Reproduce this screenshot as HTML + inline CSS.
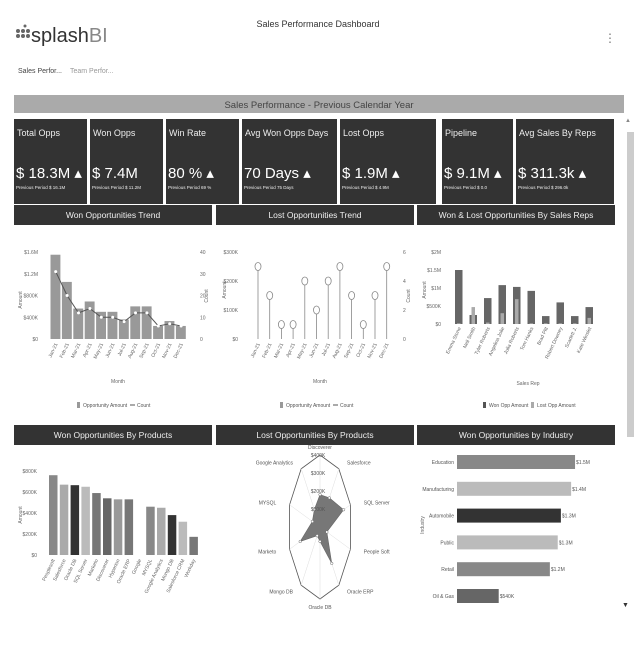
<!DOCTYPE html>
<html><head><meta charset="utf-8"><style>
body{margin:0;width:640px;height:640px;overflow:hidden;background:#fff;font-family:"Liberation Sans",sans-serif;}
svg text{font-family:"Liberation Sans",sans-serif;}
</style></head><body>
<svg id="s" width="640" height="640" viewBox="0 0 640 640" xmlns="http://www.w3.org/2000/svg">
<g>
<g fill="#666"><circle cx="18" cy="36" r="2"/><circle cx="18" cy="31" r="2"/><circle cx="23" cy="36" r="2"/><circle cx="23" cy="31" r="2"/><circle cx="28" cy="36" r="2"/><circle cx="28" cy="31" r="2"/><circle cx="25" cy="26" r="1.5"/></g>
<text x="31" y="42" font-size="20" fill="#333">splash<tspan fill="#888">BI</tspan></text>
</g>
<text x="318" y="27" font-size="9" fill="#333" text-anchor="middle">Sales Performance Dashboard</text>
<text x="610" y="42" font-size="12" fill="#777" text-anchor="middle">⋮</text>
<text x="18" y="73" font-size="7" fill="#444">Sales Perfor...</text>
<text x="70" y="73" font-size="7" fill="#999">Team Perfor...</text>
<rect x="14" y="95" width="610" height="18" fill="#aaa"/>
<text x="319" y="108" font-size="9.5" fill="#444" text-anchor="middle">Sales Performance - Previous Calendar Year</text>
<rect x="627" y="132" width="7" height="305" fill="#ccc"/>
<text x="625" y="122" font-size="6" fill="#888">▲</text>
<text x="622" y="607" font-size="7" fill="#333">▼</text>
<g id="kpis"></g>
<g id="panels"></g>
<g id="won-trend"></g><g id="lost-trend"></g><g id="reps"></g>
<g id="products"></g><g id="radar"></g><g id="industry"></g>
</svg>
<script>
const NS="http://www.w3.org/2000/svg";
function el(p,tag,a,txt){const e=document.createElementNS(NS,tag);for(const k in a)e.setAttribute(k,a[k]);if(txt!=null)e.textContent=txt;p.appendChild(e);return e;}

const kpiTitles=["Total Opps","Won Opps","Win Rate","Avg Won Opps Days","Lost Opps","Pipeline","Avg Sales By Reps"];
const kpiValues=["$ 18.3M","$ 7.4M","80 %","70 Days","$ 1.9M","$ 9.1M","$ 311.3k"];
const kpiPrev=["Previous Period $ 16.1M","Previous Period $ 11.2M","Previous Period 69 %","Previous Period 75 Days","Previous Period $ 4.9M","Previous Period $ 0.0","Previous Period $ 296.0k"];
const kx=[14,90,166,242,340,442,516],kw=[73,73,73,95,96,71,98];
const K=document.getElementById('kpis');
kpiTitles.forEach((t,i)=>{
 const g=el(K,'g',{});
 
 
 el(g,'rect',{x:kx[i],y:119,width:kw[i],height:85,fill:"#333"});
 el(g,'text',{x:kx[i]+3,y:136,'font-size':9,fill:"#eee"},t);
 el(g,'text',{x:kx[i]+2,y:178,'font-size':15,fill:"#fff"},kpiValues[i]+(i==1?"":" ▴"));
 el(g,'text',{x:kx[i]+2,y:189,'font-size':4.5,fill:"#eee"},kpiPrev[i]);
});

const P=document.getElementById('panels');
const hdr=[["Won Opportunities Trend",14,205],["Lost Opportunities Trend",216,205],["Won & Lost Opportunities By Sales Reps",417,205],
["Won Opportunities By Products",14,425],["Lost Opportunities By Products",216,425],["Won Opportunities by Industry",417,425]];
hdr.forEach(h=>{
 const g=el(P,'g',{});
 
 
 el(g,'rect',{x:h[1],y:h[2],width:198,height:20,fill:"#333"});
 el(g,'text',{x:h[1]+99,y:h[2]+13,'font-size':8.5,fill:"#eee",'text-anchor':'middle'},h[0]);
});

const months=["Jan-21","Feb-21","Mar-21","Apr-21","May-21","Jun-21","Jul-21","Aug-21","Sep-21","Oct-21","Nov-21","Dec-21"];
const wonAmount=[1550000,1050000,560000,690000,500000,500000,360000,600000,600000,240000,330000,240000];
const wonCount=[31,20,12,14,10,10,8,12,12,6,7,6];
const wonTicks=["$0","$400K","$800K","$1.2M","$1.6M"];
const countTicks=["0","10","20","30","40"];
const lostCount=[5,3,1,1,4,2,4,5,3,1,3,5];
const lostTicks=["$0","$100K","$200K","$300K"];
const lostCountTicks=["0","2","4","6"];
const reps=["Emma Stone","Neil Smith","Tyler Roberts","Angelina Jolie","Julia Roberts","Tom Hanks","Brad Pitt","Robert Downey","Scarlett J.","Kate Winslet"];
const repWon=[1.5,0.25,0.72,1.08,1.03,0.92,0.22,0.6,0.22,0.47];
const repLost=[0.02,0.47,0.04,0.3,0.69,0.02,0.02,0.02,0.02,0.17];
const repTicks=["$0","$500K","$1M","$1.5M","$2M"];
const products=["Peoplesoft","Salesforce","Oracle DB","SQL Server","Marketo","Discoverer","Hyperion","Oracle ERP","Google","MYSQL","Google Analytics","Mongo DB","Salesforce CRM","Workday"];
const prodWon=[760,670,665,650,590,540,530,530,0,460,450,380,317,173];
const prodColors=["#888","#aaa","#333","#bbb","#777","#666","#999","#777","#888","#888","#aaa","#333","#bbb","#777"];
const prodTicks=["$0","$200K","$400K","$600K","$800K"];
const radarAxes=["Discoverer","Salesforce","SQL Server","People Soft","Oracle ERP","Oracle DB","Mongo DB","Marketo","MYSQL","Google Analytics"];
const radarVals=[180,200,310,90,250,80,60,260,100,120];
const radarTicks=["$100K","$200K","$300K","$400K"];
const industries=["Education","Manufacturing","Automobile","Public","Retail","Oil & Gas"];
const indVals=[1.5,1.45,1.32,1.28,1.18,0.53];
const indLabels=["$1.5M","$1.4M","$1.3M","$1.3M","$1.2M","$540K"];
const indColors=["#888","#bbb","#333","#bbb","#888","#666"];

function xLabels(g,labels,x0,step,y){labels.forEach((m,i)=>{const x=x0+step*i;el(g,'text',{x:x,y:y,'font-size':5,fill:'#666','text-anchor':'end',transform:`rotate(-65 ${x} ${y})`},m);});}

(function(){
 const g=document.getElementById('won-trend');
 
 const y0=339,h=87,x0=50,bw=11.4;
 const y=v=>y0-v/1600000*h, yc=v=>y0-v/40*h;
 wonTicks.forEach((t,i)=>el(g,'text',{x:38,y:y0-i*h/4+2,'font-size':5,fill:'#666','text-anchor':'end'},t));
 countTicks.forEach((t,i)=>el(g,'text',{x:200,y:y0-i*h/4+2,'font-size':5,fill:'#666'},t));
 wonAmount.forEach((v,i)=>{const b=el(g,'rect',{x:x0+i*bw+0.5,y:y(v),width:bw-1.5,height:y0-y(v),fill:'#999'});});
 const pts=wonCount.map((c,i)=>[x0+i*bw+bw/2,yc(c)]);
 el(g,'polyline',{points:pts.map(p=>p.join(',')).join(' '),fill:'none',stroke:'#555','stroke-width':1});
 pts.forEach(p=>el(g,'circle',{cx:p[0],cy:p[1],r:1.5,fill:'#fff'}));
 xLabels(g,months,x0+bw/2+2,bw,344);
 el(g,'text',{x:118,y:383,'font-size':5,fill:'#666','text-anchor':'middle'},'Month');
 el(g,'text',{x:22,y:300,'font-size':5,fill:'#666',transform:'rotate(-90 22 300)','text-anchor':'middle'},'Amount');
 el(g,'text',{x:208,y:296,'font-size':5,fill:'#666',transform:'rotate(-90 208 296)','text-anchor':'middle'},'Count');
 el(g,'rect',{x:77,y:402,width:3,height:6,fill:'#999'});
 el(g,'text',{x:83,y:407,'font-size':5,fill:'#555'},'Opportunity Amount');
 el(g,'line',{x1:130,y1:405,x2:135,y2:405,stroke:'#555'});
 el(g,'text',{x:137,y:407,'font-size':5,fill:'#555'},'Count');
})();

(function(){
 const g=document.getElementById('lost-trend');
 
 const y0=339,h=87,x0=258,st=11.7;
 const yc=v=>y0-v/6*h;
 lostTicks.forEach((t,i)=>el(g,'text',{x:238,y:y0-i*h/3+2,'font-size':5,fill:'#666','text-anchor':'end'},t));
 lostCountTicks.forEach((t,i)=>el(g,'text',{x:403,y:y0-i*h/3+2,'font-size':5,fill:'#666'},t));
 lostCount.forEach((c,i)=>{const x=x0+i*st;el(g,'line',{x1:x,y1:y0,x2:x,y2:yc(c)+4,stroke:'#888','stroke-width':0.8});
  const c1=el(g,'ellipse',{cx:x,cy:yc(c),rx:3,ry:4,fill:'#fff',stroke:'#888','stroke-width':0.8});});
 xLabels(g,months,x0+2,st,344);
 el(g,'text',{x:320,y:383,'font-size':5,fill:'#666','text-anchor':'middle'},'Month');
 el(g,'text',{x:226,y:290,'font-size':5,fill:'#666',transform:'rotate(-90 226 290)','text-anchor':'middle'},'Amount');
 el(g,'text',{x:410,y:296,'font-size':5,fill:'#666',transform:'rotate(-90 410 296)','text-anchor':'middle'},'Count');
 el(g,'rect',{x:280,y:402,width:3,height:6,fill:'#999'});
 el(g,'text',{x:286,y:407,'font-size':5,fill:'#555'},'Opportunity Amount');
 el(g,'line',{x1:333,y1:405,x2:338,y2:405,stroke:'#555'});
 el(g,'text',{x:340,y:407,'font-size':5,fill:'#555'},'Count');
})();

(function(){
 const g=document.getElementById('reps');
 
 const y0=324,h=72,x0=455,st=14.5,bw=7.5;
 const y=v=>y0-v/2*h;
 repTicks.forEach((t,i)=>el(g,'text',{x:441,y:y0-i*h/4+2,'font-size':5,fill:'#666','text-anchor':'end'},t));
 reps.forEach((r,i)=>{const x=x0+i*st;
  const b=el(g,'rect',{x:x,y:y(repWon[i]),width:bw,height:y0-y(repWon[i]),fill:'#666'});
  const l=el(g,'rect',{x:x+2,y:y(repLost[i]),width:bw-4,height:y0-y(repLost[i]),fill:'#aaa'});});
 xLabels(g,reps,x0+6,st,328);
 el(g,'text',{x:528,y:385,'font-size':5,fill:'#666','text-anchor':'middle'},'Sales Rep');
 el(g,'text',{x:426,y:290,'font-size':5,fill:'#666',transform:'rotate(-90 426 290)','text-anchor':'middle'},'Amount');
 el(g,'rect',{x:483,y:402,width:3,height:6,fill:'#555'});
 el(g,'text',{x:489,y:407,'font-size':5,fill:'#555'},'Won Opp Amount');
 el(g,'rect',{x:531,y:402,width:3,height:6,fill:'#aaa'});
 el(g,'text',{x:537,y:407,'font-size':5,fill:'#555'},'Lost Opp Amount');
})();

(function(){
 const g=document.getElementById('products');
 
 const y0=555,h=84,x0=49,st=10.8,bw=8.5;
 const y=v=>y0-v/800*h;
 prodTicks.forEach((t,i)=>el(g,'text',{x:37,y:y0-i*h/4+2,'font-size':5,fill:'#666','text-anchor':'end'},t));
 products.forEach((p,i)=>{const x=x0+i*st;
  const b=el(g,'rect',{x:x,y:y(prodWon[i]),width:bw,height:y0-y(prodWon[i]),fill:prodColors[i]});});
 xLabels(g,products,x0+6,st,560);
 el(g,'text',{x:22,y:515,'font-size':5,fill:'#666',transform:'rotate(-90 22 515)','text-anchor':'middle'},'Amount');
})();

(function(){
 const g=document.getElementById('radar');
 
 const cx=320,cy=527,RX=32,RY=72,n=radarAxes.length;
 const pt=(i,f)=>{const a=-Math.PI/2+i*2*Math.PI/n;return [cx+f*RX*Math.cos(a),cy+f*RY*Math.sin(a)];};
 el(g,'polygon',{points:radarAxes.map((a,i)=>pt(i,1).join(',')).join(' '),fill:'none',stroke:'#555','stroke-width':0.8});
 radarAxes.forEach((a,i)=>{const p=pt(i,1);el(g,'line',{x1:cx,y1:cy,x2:p[0],y2:p[1],stroke:'#ddd','stroke-width':0.5});
  const a2=-Math.PI/2+i*2*Math.PI/n;const qx=cx+(RX+14)*Math.cos(a2),qy=cy+(RY+8)*Math.sin(a2);
  el(g,'text',{x:qx,y:qy+2,'font-size':5,fill:'#555','text-anchor':qx<cx-5?'end':(qx>cx+5?'start':'middle')},a);});
 const poly=el(g,'polygon',{points:radarVals.map((v,i)=>pt(i,v/400).join(',')).join(' '),fill:'#777',stroke:'#666','stroke-width':0.6});
 
 radarVals.forEach((v,i)=>{const p=pt(i,v/400);el(g,'circle',{cx:p[0],cy:p[1],r:1.3,fill:'#fff',stroke:'#666','stroke-width':0.5});});
 radarTicks.forEach((t,i)=>el(g,'text',{x:cx-2,y:cy-(i+1)*RY/4+2,'font-size':5,fill:'#555','text-anchor':'middle'},t));
})();

(function(){
 const g=document.getElementById('industry');
 
 const x0=457,pm=78.7,y0=455,st=26.8,bh=14;
 industries.forEach((n,i)=>{const y=y0+i*st;
  el(g,'text',{x:x0-3,y:y+bh/2+2,'font-size':5,fill:'#555','text-anchor':'end'},n);
  const b=el(g,'rect',{x:x0,y:y,width:indVals[i]*pm,height:bh,fill:indColors[i]});
  el(g,'text',{x:x0+indVals[i]*pm+1,y:y+bh/2+2,'font-size':5,fill:'#555'},indLabels[i]);});
 el(g,'text',{x:424,y:525,'font-size':5,fill:'#666',transform:'rotate(-90 424 525)','text-anchor':'middle'},'Industry');
})();
</script>
</body></html>
